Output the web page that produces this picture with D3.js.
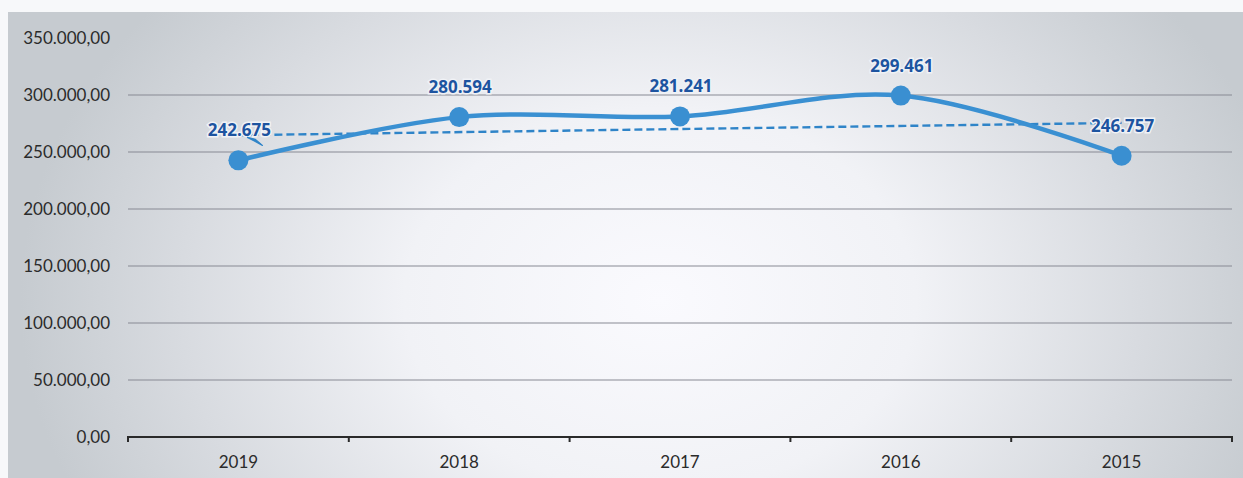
<!DOCTYPE html>
<html>
<meta charset="utf-8">
<title>Chart</title>
<head>
  <script src="https://cdnjs.cloudflare.com/ajax/libs/d3/7.8.5/d3.min.js"></script>
  <style>
    body { margin: 0; background: #f7f8fa; }
    svg { display: block; }
  </style>
</head>
<body>
<script>
  var years = ['2019', '2018', '2017', '2016', '2015'];
  var values = [242675, 280594, 281241, 299461, 246757];
  var yTicks = [0, 50000, 100000, 150000, 200000, 250000, 300000, 350000];

  var W = 1243, H = 478;
  var plotLeft = 128, plotRight = 1232, plotTop = 38, plotBottom = 437;

  var svg = d3.select('body').append('svg')
      .attr('width', W)
      .attr('height', H);

  // scanned panel background
  var defs = svg.append('defs');
  var grad = defs.append('radialGradient')
      .attr('id', 'bg')
      .attr('gradientUnits', 'userSpaceOnUse')
      .attr('cx', 660).attr('cy', 300).attr('r', 640)
      .attr('gradientTransform', 'translate(660,300) scale(1,0.75) translate(-660,-300)');
  grad.append('stop').attr('offset', '0').attr('stop-color', '#fafafe');
  grad.append('stop').attr('offset', '0.4').attr('stop-color', '#f1f2f6');
  grad.append('stop').attr('offset', '0.75').attr('stop-color', '#d8dbe0');
  grad.append('stop').attr('offset', '1').attr('stop-color', '#c6cbd0');

  svg.append('rect')
      .attr('x', 8).attr('y', 12)
      .attr('width', W - 8).attr('height', H - 12)
      .attr('fill', 'url(#bg)');

  var x = d3.scaleBand().domain(years).range([plotLeft, plotRight]);
  var y = d3.scaleLinear().domain([0, 350000]).range([plotBottom, plotTop]);

  var fmt = function(v) {
    return d3.format(',.2f')(v).replace(/,/g, '#').replace('.', ',').replace(/#/g, '.');
  };

  // gridlines
  svg.append('g').selectAll('line')
      .data(yTicks.filter(function(d) { return d > 0 && d < 350000; }))
      .enter().append('line')
      .attr('x1', plotLeft).attr('x2', plotRight)
      .attr('y1', function(d) { return y(d); })
      .attr('y2', function(d) { return y(d); })
      .attr('stroke', '#878a94')
      .attr('stroke-width', 1.2);

  // y labels
  svg.append('g').selectAll('text')
      .data(yTicks)
      .enter().append('text')
      .attr('x', 110)
      .attr('y', function(d) { return y(d) + 6; })
      .attr('text-anchor', 'end')
      .attr('font-family', 'Lato, "Open Sans", sans-serif')
      .attr('font-size', 17)
      .attr('fill', '#2b2b2b')
      .text(fmt);

  // x axis
  var xAxis = svg.append('g')
      .attr('transform', 'translate(0,' + plotBottom + ')');
  xAxis.append('line')
      .attr('x1', plotLeft).attr('x2', plotRight)
      .attr('stroke', '#2a2a2a').attr('stroke-width', 2);
  var bounds = years.map(function(d) { return x(d); }).concat([plotRight]);
  xAxis.selectAll('line.tick')
      .data(bounds)
      .enter().append('line')
      .attr('class', 'tick')
      .attr('x1', function(d) { return d; })
      .attr('x2', function(d) { return d; })
      .attr('y1', -1).attr('y2', 5)
      .attr('stroke', '#2a2a2a').attr('stroke-width', 2);
  xAxis.selectAll('text')
      .data(years)
      .enter().append('text')
      .attr('x', function(d) { return x(d) + x.bandwidth() / 2; })
      .attr('y', 31)
      .attr('text-anchor', 'middle')
      .attr('font-family', 'Lato, "Open Sans", sans-serif')
      .attr('font-size', 17)
      .attr('fill', '#2b2b2b')
      .text(function(d) { return d; });

  var cx = function(i) { return x(years[i]) + x.bandwidth() / 2; };

  // linear trend line
  var n = values.length;
  var mx = (n - 1) / 2, my = d3.mean(values);
  var slope = d3.sum(values, function(v, i) { return (i - mx) * (v - my); }) /
              d3.sum(values, function(v, i) { return (i - mx) * (i - mx); });
  var t0 = my - slope * mx, t1 = my + slope * mx;
  svg.append('line')
      .attr('x1', cx(0)).attr('x2', cx(n - 1))
      .attr('y1', y(t0)).attr('y2', y(t1))
      .attr('stroke', '#2f84c8')
      .attr('stroke-width', 2.4)
      .attr('stroke-dasharray', '8,4');

  // smoothed line
  var line = d3.line()
      .x(function(d, i) { return cx(i); })
      .y(function(d) { return y(d); })
      .curve(d3.curveCatmullRom.alpha(0.5));
  svg.append('path')
      .datum(values)
      .attr('d', line)
      .attr('fill', 'none')
      .attr('stroke', '#3a90d2')
      .attr('stroke-width', 4.5)
      .attr('stroke-linecap', 'round');

  svg.append('g').selectAll('circle')
      .data(values)
      .enter().append('circle')
      .attr('cx', function(d, i) { return cx(i); })
      .attr('cy', function(d) { return y(d); })
      .attr('r', 10)
      .attr('fill', '#3a8fd1');

  // data labels
  var lab = function(v) { return d3.format(',')(v).replace(/,/g, '.'); };

  svg.append('g').selectAll('text')
      .data(values)
      .enter().append('text')
      .attr('x', function(d, i) { return cx(i) + 1; })
      .attr('y', function(d) { return y(d) - 24; })
      .attr('text-anchor', 'middle')
      .attr('font-family', '"Open Sans", Lato, sans-serif')
      .attr('font-weight', 'bold')
      .attr('font-size', 17)
      .attr('fill', '#1d54a0')
      .style('paint-order', 'stroke')
      .attr('stroke', '#f0f2f6')
      .attr('stroke-width', 3)
      .text(lab);

  // leader for the first label
  var p0x = cx(0), p0y = y(values[0]);
  svg.append('path')
      .attr('d', 'M' + (p0x + 9) + ',' + (p0y - 23) +
                 'L' + (p0x + 24) + ',' + (p0y - 15) +
                 'L' + (p0x + 17) + ',' + (p0y - 21) + 'Z')
      .attr('fill', '#2f84c8')
      .attr('stroke', '#2f84c8')
      .attr('stroke-width', 1.2)
      .attr('stroke-linejoin', 'round');
</script>
</body>
</html>
